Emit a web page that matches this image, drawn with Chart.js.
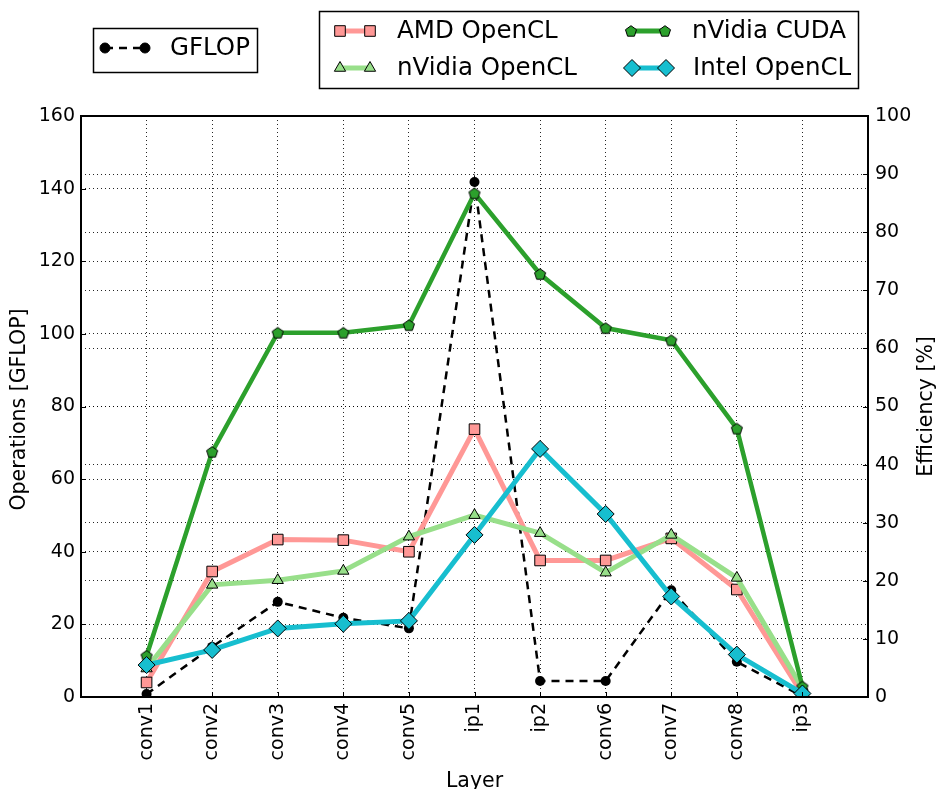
<!DOCTYPE html>
<html>
<head>
<meta charset="utf-8">
<script src="https://cdn.jsdelivr.net/npm/chart.js@4/dist/chart.umd.min.js"></script>
<style>
  html, body { margin: 0; padding: 0; background: #fff; }
  #wrap { width: 938px; height: 789px; position: relative; }
</style>
</head>
<body>
<div id="wrap"><canvas id="chart" width="938" height="789"></canvas></div>
<script>
// ---- data ----
const layers = ['conv1', 'conv2', 'conv3', 'conv4', 'conv5', 'ip1', 'ip2', 'conv6', 'conv7', 'conv8', 'ip3'];
const gflop = [0.8, 13.8, 26.2, 21.8, 18.9, 141.8, 4.4, 4.4, 29.4, 9.7, 0.2];
const amdOpenCL = [2.5, 21.6, 27.1, 27.0, 25.0, 46.1, 23.5, 23.5, 27.3, 18.5, 0.5];
const nvidiaOpenCL = [4.9, 19.3, 20.1, 21.7, 27.6, 31.3, 28.2, 21.4, 27.9, 20.5, 1.5];
const nvidiaCUDA = [7.1, 42.2, 62.7, 62.7, 64.0, 86.7, 72.8, 63.5, 61.4, 46.2, 1.8];
const intelOpenCL = [5.5, 8.1, 11.8, 12.6, 13.1, 27.9, 42.7, 31.5, 17.3, 7.3, 0.6];
const gflopTicks = [0, 160, 20];
const effTicks = [0, 100, 10];

const FONT = '"DejaVu Sans", sans-serif';
const C_AMD = '#ff9896', C_NVOCL = '#98df8a', C_CUDA = '#2ca02c', C_INTEL = '#17becf';

const pts = arr => arr.map((v, i) => ({ x: i, y: v }));

// pentagon marker (Chart.js has no built-in one)
function makePentagon(r, fill) {
  const s = Math.ceil(r * 2 + 4);
  const c = document.createElement('canvas');
  c.width = s; c.height = s;
  const g = c.getContext('2d');
  g.beginPath();
  for (let k = 0; k < 5; k++) {
    const a = -Math.PI / 2 + k * 2 * Math.PI / 5;
    const px = s / 2 + r * Math.cos(a), py = s / 2 + r * Math.sin(a) + 0.5;
    k ? g.lineTo(px, py) : g.moveTo(px, py);
  }
  g.closePath();
  g.fillStyle = fill; g.fill();
  g.lineWidth = 1; g.strokeStyle = '#000'; g.stroke();
  return c;
}
const pentagon = makePentagon(5.8, C_CUDA);

// legend entries: [label, color, lineWidth, dash, pointStyle, radius, x, y, sample length]
const legendEntries = [
  ['GFLOP', '#000', 2.5, [8, 6], 'circle', 5, 105, 48, 40],
  ['AMD OpenCL', C_AMD, 5, [], 'rect', 7.5, 340, 31, 30],
  ['nVidia OpenCL', C_NVOCL, 5, [], 'triangle', 6.5, 340, 68, 30],
  ['nVidia CUDA', C_CUDA, 5, [], pentagon, 5.8, 631, 31, 34],
  ['Intel OpenCL', C_INTEL, 5, [], 'rectRot', 8.5, 632, 68, 34]
];

const decorPlugin = {
  id: 'decor',
  afterDraw(chart) {
    const ctx = chart.ctx, a = chart.chartArea;
    ctx.save();
    // frame
    ctx.strokeStyle = '#000'; ctx.lineWidth = 2; ctx.setLineDash([]);
    ctx.strokeRect(a.left, a.top, a.right - a.left, a.bottom - a.top);
    // inner ticks
    ctx.lineWidth = 1;
    const yl = chart.scales.y, yr = chart.scales.y2, xs = chart.scales.x;
    yl.ticks.forEach(t => { const py = Math.round(yl.getPixelForValue(t.value)) + 0.5; ctx.beginPath(); ctx.moveTo(a.left, py); ctx.lineTo(a.left + 5, py); ctx.stroke(); });
    yr.ticks.forEach(t => { const py = Math.round(yr.getPixelForValue(t.value)) + 0.5; ctx.beginPath(); ctx.moveTo(a.right, py); ctx.lineTo(a.right - 5, py); ctx.stroke(); });
    layers.forEach((l, i) => { const px = Math.round(xs.getPixelForValue(i)) + 0.5; ctx.beginPath(); ctx.moveTo(px, a.bottom); ctx.lineTo(px, a.bottom - 5); ctx.stroke(); });

    // axis titles
    ctx.fillStyle = '#000';
    ctx.font = '20.5px ' + FONT;
    ctx.textAlign = 'center'; ctx.textBaseline = 'middle';
    const cy = (a.top + a.bottom) / 2;
    ctx.save(); ctx.translate(20, cy + 3); ctx.rotate(-Math.PI / 2); ctx.fillText('Operations [GFLOP]', 0, 0); ctx.restore();
    ctx.save(); ctx.translate(927, cy); ctx.rotate(-Math.PI / 2); ctx.fillText('Efficiency [%]', 0, 0); ctx.restore();
    ctx.fillText('Layer', (a.left + a.right) / 2, 782);

    // legend boxes
    ctx.lineWidth = 1.5;
    ctx.strokeRect(93.5, 28.5, 164, 44);
    ctx.strokeRect(319.5, 11.5, 539, 77);
    ctx.font = '24.5px ' + FONT;
    ctx.textAlign = 'left';
    legendEntries.forEach(([label, color, lw, dash, style, r, x, y, len]) => {
      ctx.save();
      ctx.strokeStyle = color; ctx.lineWidth = lw; ctx.setLineDash(dash);
      ctx.beginPath(); ctx.moveTo(x, y); ctx.lineTo(x + len, y); ctx.stroke();
      ctx.setLineDash([]);
      ctx.fillStyle = label === 'GFLOP' ? '#000' : color;
      ctx.strokeStyle = '#000'; ctx.lineWidth = 1;
      [x, x + len].forEach(px => Chart.helpers.drawPoint(ctx, { pointStyle: style, radius: r, borderWidth: 1, rotation: 0 }, px, y));
      ctx.restore();
      ctx.fillStyle = '#000';
      ctx.fillText(label, x + len + (label === 'GFLOP' ? 25 : 27), y + 1);
    });
    ctx.restore();
  }
};

const gridOpts = { color: 'rgba(0,0,0,0.85)', lineWidth: 1, drawTicks: false };
const borderOpts = { display: false, dash: [1, 3] };
const tickFont = { family: FONT, size: 19 };

new Chart(document.getElementById('chart'), {
  type: 'line',
  data: {
    datasets: [
      { label: 'Intel OpenCL', data: pts(intelOpenCL), yAxisID: 'y2', order: 0,
        borderColor: C_INTEL, borderWidth: 5, pointStyle: 'rectRot', pointRadius: 8.5,
        pointBackgroundColor: C_INTEL, pointBorderColor: '#000', pointBorderWidth: 1 },
      { label: 'nVidia CUDA', data: pts(nvidiaCUDA), yAxisID: 'y2', order: 1,
        borderColor: C_CUDA, borderWidth: 4.5, pointStyle: pentagon, pointRadius: 5.8,
        pointBackgroundColor: C_CUDA, pointBorderColor: '#000', pointBorderWidth: 1 },
      { label: 'nVidia OpenCL', data: pts(nvidiaOpenCL), yAxisID: 'y2', order: 2,
        borderColor: C_NVOCL, borderWidth: 5, pointStyle: 'triangle', pointRadius: 6.5,
        pointBackgroundColor: C_NVOCL, pointBorderColor: '#000', pointBorderWidth: 1 },
      { label: 'AMD OpenCL', data: pts(amdOpenCL), yAxisID: 'y2', order: 3,
        borderColor: C_AMD, borderWidth: 5, pointStyle: 'rect', pointRadius: 7.5,
        pointBackgroundColor: C_AMD, pointBorderColor: '#000', pointBorderWidth: 1 },
      { label: 'GFLOP', data: pts(gflop), yAxisID: 'y', order: 4,
        borderColor: '#000', borderWidth: 2.5, borderDash: [8, 6], pointStyle: 'circle', pointRadius: 5,
        pointBackgroundColor: '#000', pointBorderColor: '#000', pointBorderWidth: 0 }
    ]
  },
  options: {
    responsive: false,
    animation: false,
    events: [],
    layout: { padding: { top: 116, left: 0, right: 0, bottom: 0 } },
    elements: { line: { tension: 0 } },
    plugins: { legend: { display: false }, tooltip: { enabled: false } },
    scales: {
      x: {
        type: 'linear', min: -1, max: 11,
        grid: gridOpts, border: borderOpts,
        ticks: {
          stepSize: 1, autoSkip: false, maxRotation: 90, minRotation: 90, padding: 6,
          color: '#000', font: tickFont,
          callback: v => layers[v] ?? ''
        },
        afterFit: s => { s.height = 92; }
      },
      y: {
        position: 'left', min: gflopTicks[0], max: gflopTicks[1],
        grid: gridOpts, border: borderOpts,
        ticks: { stepSize: gflopTicks[2], padding: 6, color: '#000', font: tickFont },
        afterFit: s => { s.width = 81; }
      },
      y2: {
        position: 'right', min: effTicks[0], max: effTicks[1],
        grid: gridOpts, border: borderOpts,
        ticks: { stepSize: effTicks[2], padding: 7, color: '#000', font: tickFont },
        afterFit: s => { s.width = 70; }
      }
    }
  },
  plugins: [decorPlugin]
});
</script>
</body>
</html>
